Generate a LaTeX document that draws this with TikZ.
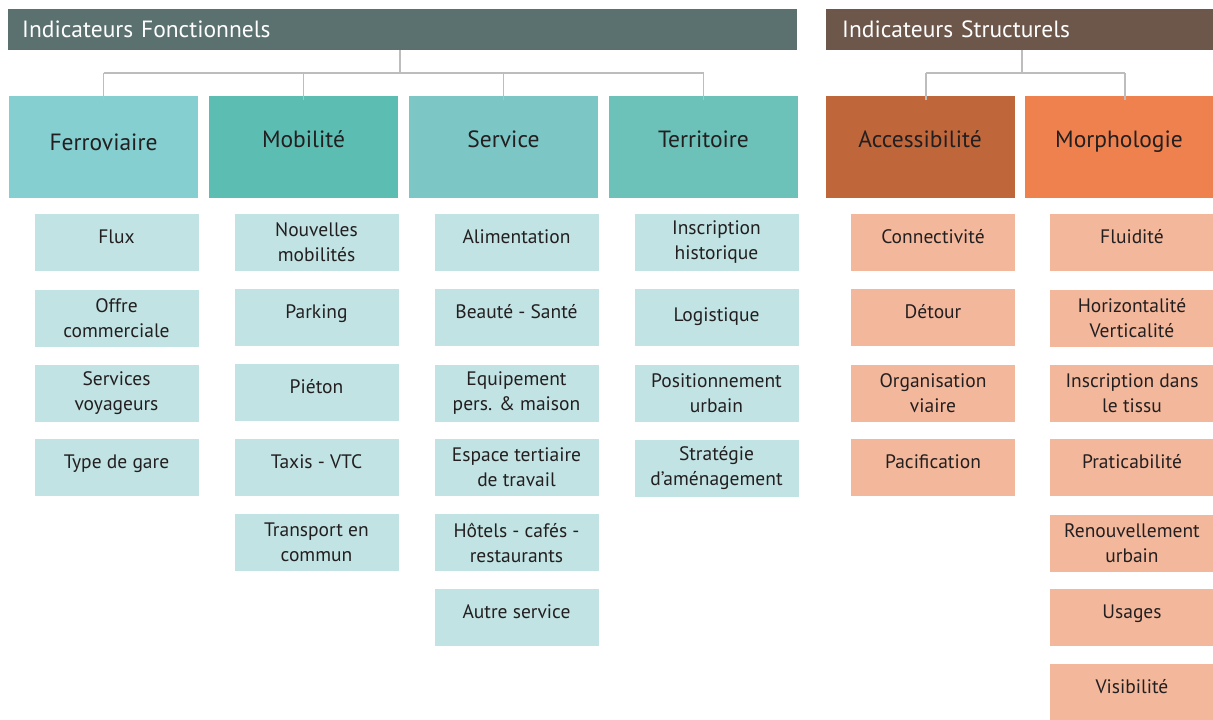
\documentclass[tikz,border=0pt]{standalone}
\usepackage{fontspec}
\setmainfont{PT Sans}
\definecolor{hdrA}{HTML}{5B7170}
\definecolor{hdrB}{HTML}{6D574B}
\definecolor{cFer}{HTML}{85CFD0}
\definecolor{cMob}{HTML}{5CBDB3}
\definecolor{cSer}{HTML}{7DC6C6}
\definecolor{cTer}{HTML}{6CC1B8}
\definecolor{cSubT}{HTML}{C2E3E3}
\definecolor{cAcc}{HTML}{C0663B}
\definecolor{cMor}{HTML}{EE814D}
\definecolor{cSubO}{HTML}{F3B89C}
\definecolor{lineC}{HTML}{BDBDBD}
\definecolor{txt}{HTML}{231F20}
\tikzset{
  hdr/.style={rectangle, minimum height=41pt, inner xsep=14pt, inner ysep=0pt, text=white, anchor=north west,
    font=\fontsize{23.5}{27}\selectfont, text height=18pt, text depth=3pt, align=left},
  cat/.style={rectangle, minimum width=189pt, minimum height=102pt, inner sep=0pt, text=txt,
    font=\fontsize{23.5}{27}\selectfont, text height=16pt, text depth=16pt},
  subbox/.style={rectangle, minimum width=164pt, minimum height=57pt, inner sep=0pt, text=txt,
    font=\fontsize{19.5}{25}\selectfont, align=center},
  one/.style={text height=14pt, text depth=12pt},
  subT/.style={subbox, fill=cSubT},
  subO/.style={subbox, fill=cSubO},
  conn/.style={draw=lineC, line width=1.6pt}
}
\begin{document}
\begin{tikzpicture}[x=1pt,y=-1pt]
\useasboundingbox[fill=white] (0,0) rectangle (1213,720);
% headers
\node[hdr, fill=hdrA, minimum width=789pt, text width=761pt] (hf) at (8,9) {Indicateurs Fonctionnels};
\node[hdr, fill=hdrB, minimum width=387pt, text width=356pt, inner xsep=16pt] (hs) at (826,9) {Indicateurs Structurels};
% categories
\node[cat, fill=cFer, text depth=9pt] (fer) at (103.5,147) {Ferroviaire};
\node[cat, fill=cMob] (mob) at (303.5,147) {Mobilité};
\node[cat, fill=cSer] (ser) at (503.5,147) {Service};
\node[cat, fill=cTer] (ter) at (703.5,147) {Territoire};
\node[cat, fill=cAcc] (acc) at (920,147) {Accessibilité};
\node[cat, fill=cMor, minimum width=188pt] (mor) at (1119,147) {Morphologie};
% connectors
\coordinate (jf) at (400,73);
\draw[conn] (hf.south -| jf) -- (jf);
\draw[conn] (fer.north |- jf) -- (ter.north |- jf);
\foreach \n in {fer,mob,ser,ter} \draw[conn] (\n.north |- jf) -- ([yshift=-4pt]\n.north);
\coordinate (js) at (1022,73);
\draw[conn] (hs.south -| js) -- (js);
\draw[conn] ([xshift=6pt]acc.north |- js) -- ([xshift=6pt]mor.north |- js);
\foreach \n in {acc,mor} \draw[conn] ([xshift=6pt]\n.north |- js) -- ([xshift=6pt,yshift=-4pt]\n.north);
% Ferroviaire
\node[subT, one] (f1) at (116.5,242.5) {Flux};
\node[subT] (f2) at (116.5,318.5) {Offre\\commerciale};
\node[subT] (f3) at (116.5,393.5) {Services\\voyageurs};
\node[subT, one] (f4) at (116.5,467.5) {Type de gare};
% Mobilite
\node[subT] (m1) at (316.5,242.5) {Nouvelles\\mobilités};
\node[subT, one] (m2) at (316.5,317.5) {Parking};
\node[subT, one] (m3) at (316.5,392.5) {Piéton};
\node[subT, one] (m4) at (316.5,467.5) {Taxis - VTC};
\node[subT] (m5) at (316.5,542.5) {Transport en\\commun};
% Service
\node[subT, one] (s1) at (516.5,242.5) {Alimentation};
\node[subT, one] (s2) at (516.5,317.5) {Beauté - Santé};
\node[subT] (s3) at (516.5,393.5) {Equipement\\pers. \& maison};
\node[subT] (s4) at (516.5,467.5) {Espace tertiaire\\de travail};
\node[subT] (s5) at (516.5,542.5) {Hôtels - cafés -\\restaurants};
\node[subT, one] (s6) at (516.5,617.5) {Autre service};
% Territoire
\node[subT] (t1) at (716.5,242.5) {Inscription\\historique};
\node[subT, one, text depth=6pt] (t2) at (716.5,317.5) {Logistique};
\node[subT] (t3) at (716.5,393.5) {Positionnement\\urbain};
\node[subT] (t4) at (716.5,468.5) {Stratégie\\d’aménagement};
% Accessibilite
\node[subO, one] (a1) at (933,242.5) {Connectivité};
\node[subO, one] (a2) at (933,317.5) {Détour};
\node[subO] (a3) at (933,393.5) {Organisation\\viaire};
\node[subO, one] (a4) at (933,467.5) {Pacification};
% Morphologie
\node[subO, one] (o1) at (1132,242.5) {Fluidité};
\node[subO] (o2) at (1132,318.5) {Horizontalité\\Verticalité};
\node[subO] (o3) at (1132,393.5) {Inscription dans\\le tissu};
\node[subO, one] (o4) at (1132,467.5) {Praticabilité};
\node[subO] (o5) at (1132,543.5) {Renouvellement\\urbain};
\node[subO, one] (o6) at (1132,617.5) {Usages};
\node[subO, one] (o7) at (1132,692.5) {Visibilité};
\end{tikzpicture}
\end{document}
